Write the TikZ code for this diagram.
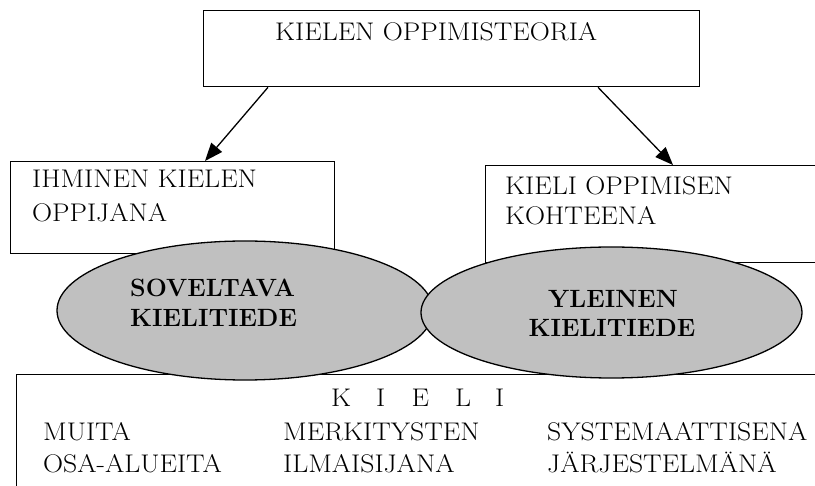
\documentclass[tikz,border=0pt]{standalone}
\usetikzlibrary{arrows.meta,calc,shapes.geometric}
\definecolor{blobgray}{RGB}{192,192,192}
% slightly widened upright caps
\newcommand\widetext[1]{\scalebox{1.09}[1]{#1}}
\begin{document}
\begin{tikzpicture}[x=1pt,y=-1pt,
  box/.style={draw,line width=1.3pt,inner sep=0pt,anchor=north west},
  blob/.style={draw,line width=1.3pt,fill=blobgray,ellipse,inner sep=0pt},
  txt/.style={inner sep=0pt,anchor=base west,font=\fontsize{25.5}{30}\selectfont},
  btxt/.style={inner sep=0pt,anchor=base west,font=\fontsize{25}{30}\selectfont\bfseries},
  ctxt/.style={inner sep=0pt,anchor=base,font=\fontsize{25}{30}\selectfont\bfseries},
  arr/.style={-{Triangle[length=18pt,width=14pt]},line width=1.3pt}]
\useasboundingbox (0,0) rectangle (815,486);
\clip (0,0) rectangle (815,486);

% boxes
\node[box,minimum width=496pt,minimum height=76pt] (top) at (203,10) {};
\node[box,minimum width=324pt,minimum height=92pt] (lbox) at (10,161) {};
\node[box,minimum width=360pt,minimum height=97pt] (rbox) at (485,165) {};
\node[box,minimum width=830pt,minimum height=140pt] (kieli) at (16,374) {};

% ellipses
\node[blob,minimum width=376pt,minimum height=139pt] (sov) at (245,310.5) {};
\node[blob,minimum width=381pt,minimum height=131pt] (yle) at (611.5,312.5) {};

% arrows
\draw[arr] ($(top.south west)+(65,0)$) -- ($(lbox.north west)+(195,0)$);
\draw[arr] ($(top.south west)+(395,0)$) -- ($(rbox.north west)+(188,0)$);

% texts
\node[txt] (t0) at (275,41) {\widetext{KIELEN OPPIMISTEORIA}};
\node[txt] (t1) at (32,188) {\widetext{IHMINEN KIELEN}};
\node[txt] (t2) at (32,222) {\widetext{OPPIJANA}};
\node[txt] (t3) at (505,195) {\widetext{KIELI OPPIMISEN}};
\node[txt] (t4) at (505,225) {\widetext{KOHTEENA}};
\node[btxt] (s1) at (130,297) {SOVELTAVA};
\node[btxt] (s2) at (130,327) {KIELITIEDE};
\node[ctxt] (y1) at (613,308) {YLEINEN};
\node[ctxt] (y2) at (612,337) {KIELITIEDE};
\node[txt] (k0) at (331,407) {\widetext{K\hspace{23pt}I\hspace{24pt}E\hspace{24pt}L\hspace{22pt}I}};
\node[txt] (k1) at (43,441) {\widetext{MUITA}};
\node[txt] (k2) at (43,473) {\widetext{OSA-ALUEITA}};
\node[txt] (k3) at (283,441) {\widetext{MERKITYSTEN}};
\node[txt] (k4) at (283,473) {\widetext{ILMAISIJANA}};
\node[txt] (k5) at (547,441) {\widetext{SYSTEMAATTISENA}};
\node[txt] (k6) at (547,473) {\widetext{JÄRJESTELMÄNÄ}};
\end{tikzpicture}
\end{document}
